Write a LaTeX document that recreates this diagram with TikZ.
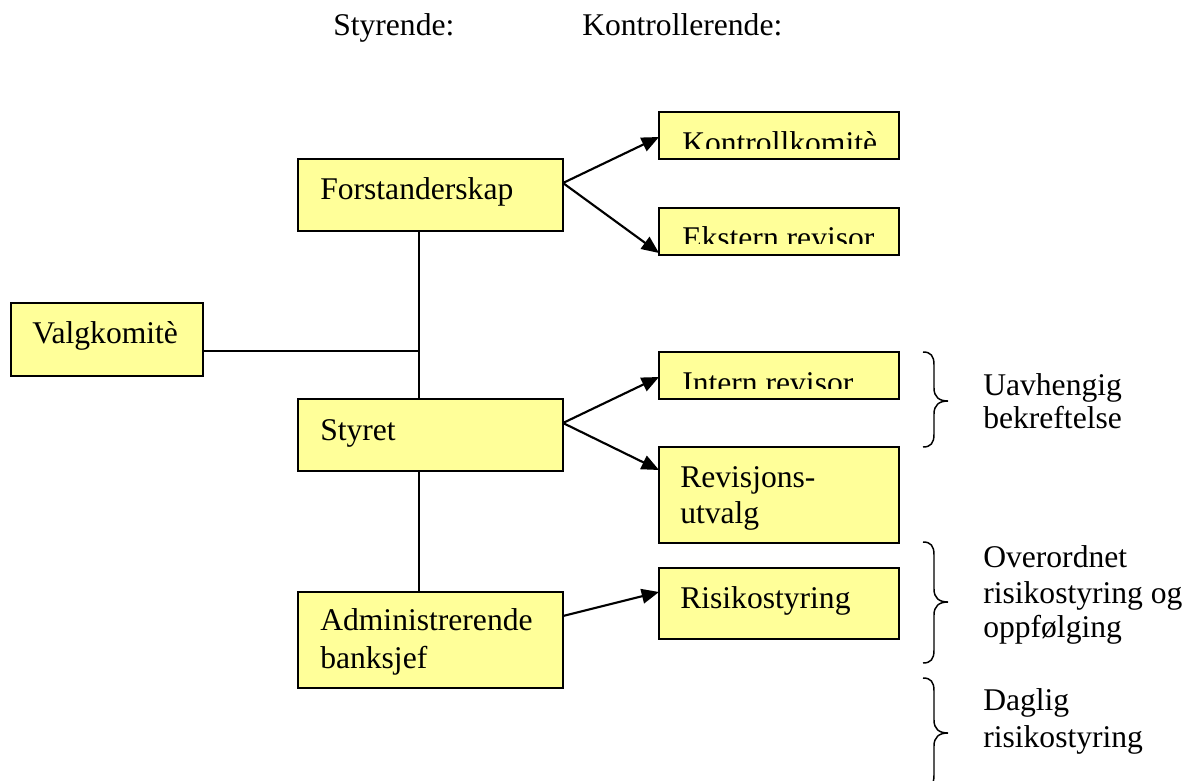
\documentclass[tikz,border=0pt]{standalone}
\usepackage{fontspec}
\setmainfont{Liberation Serif}
\usetikzlibrary{arrows.meta,fit}
\definecolor{boxyellow}{HTML}{FFFF99}
\tikzset{
  box/.style={draw=black, fill=boxyellow, line width=1.4pt, inner sep=0pt, rectangle},
  txt/.style={anchor=base west, inner sep=0pt, font=\fontsize{23.7pt}{27pt}\selectfont},
  conn/.style={line width=1.3pt},
  arr/.style={line width=1.6pt, -{Triangle[length=13pt,width=11pt]}},
  brc/.style={line width=1.1pt},
}
\newcommand{\mybrace}[4]{% x-end, top y, tip y, bottom y
  \draw[brc] (#1,#2) .. controls (#1+8,#2) and (#1+11,#2+4) .. (#1+11,#2+13)
    -- (#1+11,#3-13) .. controls (#1+11,#3-4) and (#1+16,#3) .. (#1+25,#3)
    .. controls (#1+16,#3) and (#1+11,#3+4) .. (#1+11,#3+13)
    -- (#1+11,#4-13) .. controls (#1+11,#4-4) and (#1+8,#4) .. (#1,#4);}
\begin{document}
\begin{tikzpicture}[x=0.75pt,y=-0.75pt]
\useasboundingbox (0,0) rectangle (1193,781);

% headings
\node[txt] (hstyr) at (333,36) {Styrende:};
\node[txt] (hkont) at (582,36) {Kontrollerende:};

% boxes
\node[box, fit={(298,159) (563,231)}] (fors) {};
\node[box, fit={(11,303) (203,376)}] (valg) {};
\node[box, fit={(298,399) (563,471)}] (styr) {};
\node[box, fit={(298,592) (563,688)}] (adm) {};
\node[box, fit={(659,112) (899,159)}] (kont) {};
\node[box, fit={(659,208) (899,255)}] (ekst) {};
\node[box, fit={(659,352) (899,399)}] (intr) {};
\node[box, fit={(659,447) (899,543)}] (revu) {};
\node[box, fit={(659,568) (899,639)}] (risk) {};

% box texts
\node[txt] (forst) at (320,200) {Forstanderskap};
\node[txt] (valgt) at (32,343) {Valgkomitè};
\node[txt] (styrt) at (320,440) {Styret};
\node[txt] (admt1) at (320,630) {Administrerende};
\node[txt] (admt2) at (320,668) {banksjef};
\begin{scope}
  \clip (659,112) rectangle (899,149);
  \node[txt] (kontt) at (682,154) {Kontrollkomitè};
\end{scope}
\begin{scope}
  \clip (659,208) rectangle (899,244);
  \node[txt] (ekstt) at (682,248) {Ekstern revisor};
\end{scope}
\begin{scope}
  \clip (659,352) rectangle (899,388);
  \node[txt] (intrt) at (682,393) {Intern revisor};
\end{scope}
\node[txt] (revt1) at (680,487) {Revisjons-};
\node[txt] (revt2) at (680,523) {utvalg};
\node[txt] (riskt) at (680,608) {Risikostyring};

% connector coordinates
\coordinate (vx) at (419,0);
\coordinate (hy) at (0,351);
\coordinate (junc) at (419,351);
\coordinate (fout) at (563,183);
\coordinate (sout) at (563,423);
\coordinate (aout) at (563,616);
\coordinate (kin) at (659,137);
\coordinate (ein) at (659,253);
\coordinate (iin) at (659,377);
\coordinate (rin) at (659,470);
\coordinate (rkin) at (659,592);

% vertical spine
\draw[conn] (fors.south -| vx) -- (styr.north -| vx);
\draw[conn] (styr.south -| vx) -- (adm.north -| vx);
\draw[conn] (valg.east |- hy) -- (junc);

% arrows
\draw[arr] (fout) -- (kin);
\draw[arr] (fout) -- (ein);
\draw[arr] (sout) -- (iin);
\draw[arr] (sout) -- (rin);
\draw[arr] (aout) -- (rkin);

% braces
\mybrace{923}{352}{401}{447}
\mybrace{923}{542}{602}{663}
\mybrace{923}{678}{733}{788}

% brace labels
\node[txt] (u1) at (983,395) {Uavhengig};
\node[txt] (u2) at (983,428) {bekreftelse};
\node[txt] (o1) at (983,567) {Overordnet};
\node[txt] (o2) at (983,603) {risikostyring og};
\node[txt] (o3) at (983,637) {oppfølging};
\node[txt] (d1) at (983,710) {Daglig};
\node[txt] (d2) at (983,747) {risikostyring};
\end{tikzpicture}
\end{document}
